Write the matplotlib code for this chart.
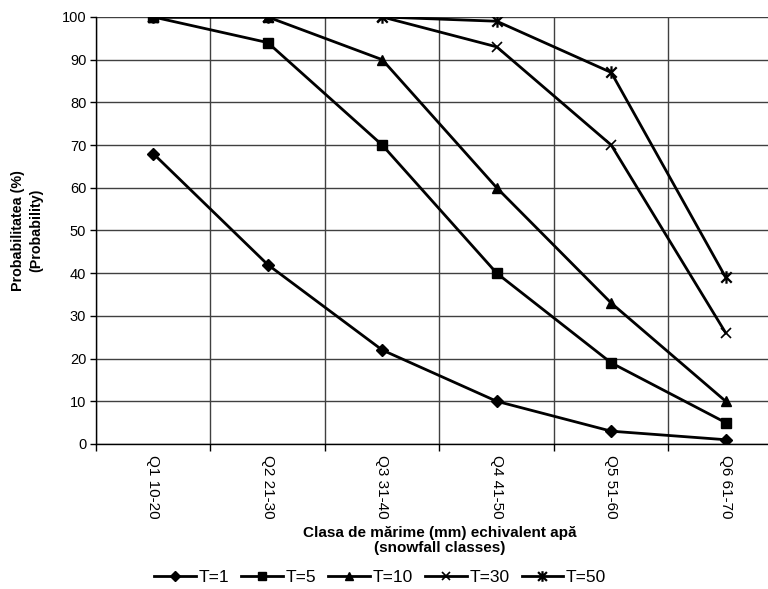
import numpy as np
import matplotlib
matplotlib.use('Agg')
import matplotlib.pyplot as plt
from matplotlib.path import Path

plt.rcParams['font.family'] = ['Liberation Sans', 'DejaVu Sans']

categories = ['Q1 10-20', 'Q2 21-30', 'Q3 31-40', 'Q4 41-50', 'Q5 51-60', 'Q6 61-70']
series_names = ['T=1', 'T=5', 'T=10', 'T=30', 'T=50']
t1 = [68, 42, 22, 10, 3, 1]
t5 = [100, 94, 70, 40, 19, 5]
t10 = [100, 100, 90, 60, 33, 10]
t30 = [100, 100, 100, 93, 70, 26]
t50 = [100, 100, 100, 99, 87, 39]

# excel-style star marker: an x with a vertical bar through it
star = Path([(-1, -1), (1, 1), (-1, 1), (1, -1), (0, -1.2), (0, 1.2)],
            [Path.MOVETO, Path.LINETO, Path.MOVETO, Path.LINETO, Path.MOVETO, Path.LINETO])

styles = [
    dict(marker='D', markersize=6),
    dict(marker='s', markersize=7),
    dict(marker='^', markersize=7),
    dict(marker='x', markersize=7, markeredgewidth=1.2),
    dict(marker=star, markersize=9, markeredgewidth=1.6),
]

fig = plt.figure(figsize=(7.68, 5.89), dpi=100)
ax = fig.add_axes([0.125, 0.2462, 0.8945, 0.725])

x = np.arange(len(categories))
for name, vals, st in zip(series_names, [t1, t5, t10, t30, t50], styles):
    ax.plot(x, vals, color='black', linewidth=2, label=name, **st)

ax.set_xlim(-0.5, len(categories) - 0.5)
ax.set_ylim(0, 100)
ax.set_yticks(range(0, 101, 10))
ax.set_xticks(x)
ax.set_xticklabels(categories, rotation=-90, fontsize=11)
ax.set_xticks(np.arange(-0.5, len(categories), 1), minor=True)
ax.tick_params(axis='x', which='major', length=0, pad=8)
ax.tick_params(axis='x', which='minor', length=5, width=1)
ax.tick_params(axis='y', length=4, width=1, labelsize=10.5, pad=3)

ax.grid(True, axis='y', color='#404040', linewidth=1)
ax.grid(True, axis='x', which='minor', color='#404040', linewidth=1)
ax.set_axisbelow(True)
for s in ['top', 'right']:
    ax.spines[s].set_visible(False)
ax.spines['left'].set_linewidth(1)
ax.spines['bottom'].set_linewidth(1)

ax.set_ylabel('Probabilitatea (%)\n(Probability)', fontsize=10.3, fontweight='bold',
              linespacing=1.35)
ax.yaxis.set_label_coords(-0.077, 0.5)
ax.set_xlabel('Clasa de mărime (mm) echivalent apă\n(snowfall classes)', fontsize=11,
              fontweight='bold', labelpad=5, linespacing=1.15)

handles, labels = ax.get_legend_handles_labels()
fig.legend(handles, labels, loc='center', bbox_to_anchor=(0.495, 0.02), ncol=5,
           frameon=False, fontsize=12.5, handlelength=2.4, handletextpad=0.15,
           columnspacing=0.7, markerscale=0.85)

fig.savefig('out.png', dpi=100)
